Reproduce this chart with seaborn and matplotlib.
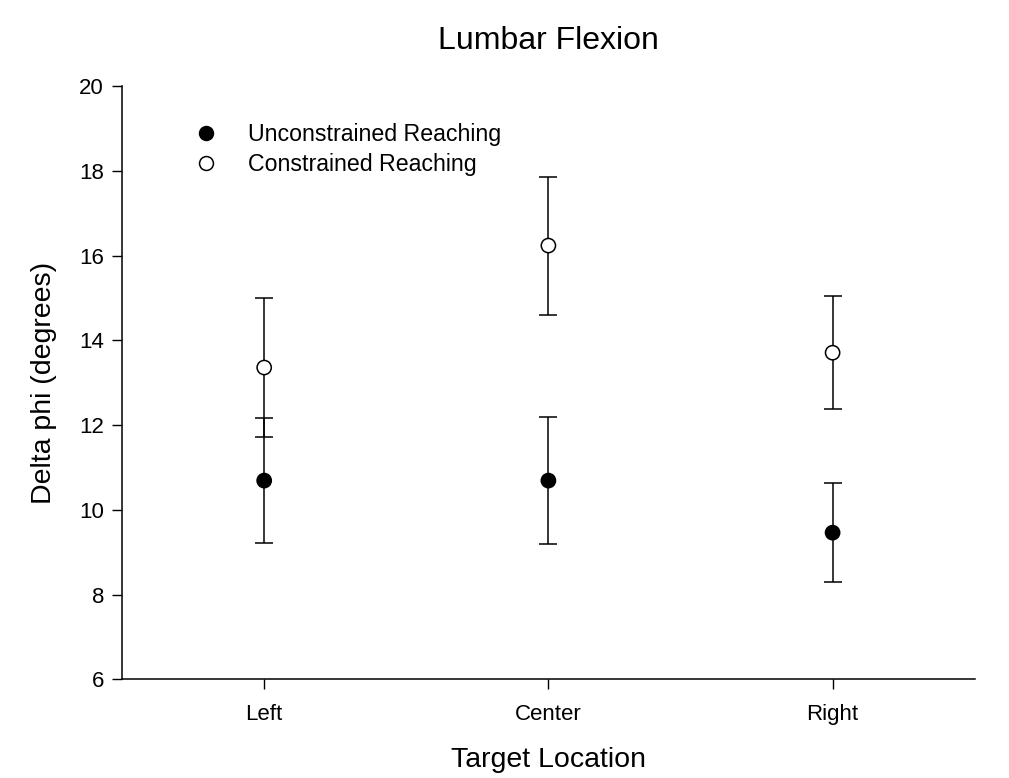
import matplotlib
matplotlib.use("Agg")
import matplotlib.pyplot as plt
import seaborn as sns
import pandas as pd
from matplotlib.lines import Line2D

locations = ["Left", "Center", "Right"]
unconstrained_mean = [10.69, 10.69, 9.46]
unconstrained_err = [1.48, 1.49, 1.17]
constrained_mean = [13.36, 16.24, 13.71]
constrained_err = [1.65, 1.63, 1.34]
series_names = ["Unconstrained Reaching", "Constrained Reaching"]
y_ticks = [6, 8, 10, 12, 14, 16, 18, 20]

sns.set_style("ticks")
plt.rcParams["font.family"] = ["Liberation Sans", "DejaVu Sans"]
plt.rcParams["text.color"] = "black"
plt.rcParams["axes.labelcolor"] = "black"

df = pd.DataFrame({
    "Target Location": locations * 2,
    "value": unconstrained_mean + constrained_mean,
    "err": unconstrained_err + constrained_err,
    "series": [series_names[0]] * 3 + [series_names[1]] * 3,
})

fig = plt.figure(figsize=(10.09, 7.78), dpi=100)
ax = fig.add_axes([0.121, 0.127, 0.845, 0.762])

for name in series_names:
    sub = df[df["series"] == name]
    ax.errorbar(sub["Target Location"], sub["value"], yerr=sub["err"],
                fmt="none", ecolor="black", elinewidth=1.1, capsize=6.8,
                capthick=1.1, zorder=2)

sns.scatterplot(data=df, x="Target Location", y="value", hue="series",
                palette={series_names[0]: "black", series_names[1]: "white"},
                edgecolor="black", linewidth=1.1, s=105, zorder=3, ax=ax,
                legend=False)

ax.set_xlim(-0.5, 2.5)
ax.set_ylim(6, 20)
ax.set_yticks(y_ticks)
ax.tick_params(axis="both", labelsize=16, length=7, width=1.0, direction="out",
               colors="black", labelcolor="black")
ax.tick_params(axis="x", pad=11)
ax.tick_params(axis="y", pad=6)
for s in ["left", "bottom"]:
    ax.spines[s].set_linewidth(1.1)
    ax.spines[s].set_color("black")
sns.despine(ax=ax)

ax.set_xlabel("Target Location", fontsize=20.5, labelpad=16, color="black")
ax.set_ylabel("Delta phi (degrees)", fontsize=20.5, labelpad=16, color="black")
ax.set_title("Lumbar Flexion", fontsize=23, pad=27, color="black")

handles = [
    Line2D([], [], linestyle="none", marker="o", markersize=10, markerfacecolor="black",
           markeredgecolor="black", markeredgewidth=1.1),
    Line2D([], [], linestyle="none", marker="o", markersize=10, markerfacecolor="white",
           markeredgecolor="black", markeredgewidth=1.1),
]
ax.legend(handles, series_names, loc="upper left", bbox_to_anchor=(0.0745, 0.9535),
          frameon=False, fontsize=16.7, handletextpad=1.3, labelspacing=0.3,
          handlelength=1.0, borderaxespad=0, labelcolor="black")

fig.savefig("out.png", dpi=100)
